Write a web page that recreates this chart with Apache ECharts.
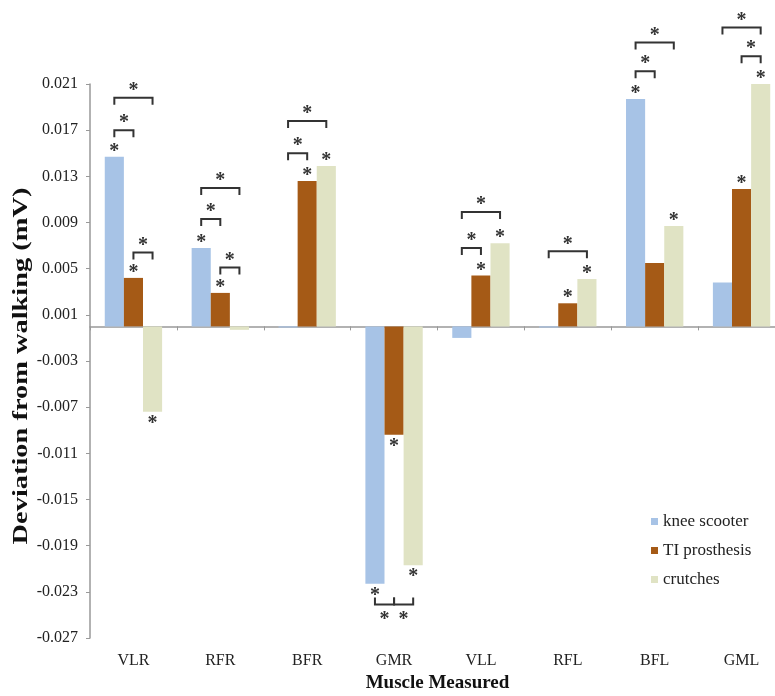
<!DOCTYPE html>
<html>
<head>
<meta charset="utf-8">
<script src="https://cdn.jsdelivr.net/npm/echarts@6/dist/echarts.min.js"></script>
<style>
  html, body { margin: 0; padding: 0; background: #fff; }
  #chart { width: 775px; height: 696px; }
</style>
</head>
<body>
<div id="chart"></div>
<script>
// muscles on the x axis
const muscles = ['VLR', 'RFR', 'BFR', 'GMR', 'VLL', 'RFL', 'BFL', 'GML'];
const seriesNames = ['knee scooter', 'TI prosthesis', 'crutches'];

// deviation from walking (mV)
const kneeScooter = [0.0147, 0.0068, -0.0001, -0.0223, -0.0010, -0.0001, 0.0197, 0.0038];
const tiProsthesis = [0.0042, 0.0029, 0.0126, -0.0094, 0.0044, 0.0020, 0.0055, 0.0119];
const crutches = [-0.0074, -0.0003, 0.0139, -0.0207, 0.0072, 0.0041, 0.0087, 0.0210];

// * over a bar (1 = significant vs walking)
const kneeSig = [1, 1, 0, 1, 0, 0, 1, 0];
const tiSig = [1, 1, 1, 1, 1, 1, 0, 1];
const crutchSig = [1, 0, 1, 1, 1, 1, 1, 1];

// brackets between groups: [muscle index, from series, to series, height]
const brackets = [
  [0, 0, 1, 0.0170], [0, 0, 2, 0.0198], [0, 1, 2, 0.0064],
  [1, 0, 1, 0.0093], [1, 0, 2, 0.0120], [1, 1, 2, 0.0051],
  [2, 0, 1, 0.0150], [2, 0, 2, 0.0178],
  [3, 0, 1, -0.0241], [3, 1, 2, -0.0241],
  [4, 0, 1, 0.0068], [4, 0, 2, 0.0099],
  [5, 0, 2, 0.0065],
  [6, 0, 1, 0.0221], [6, 0, 2, 0.0246],
  [7, 1, 2, 0.0234], [7, 0, 2, 0.0259]
];

const yTicks = [-0.027, -0.023, -0.019, -0.015, -0.011, -0.007, -0.003, 0.001, 0.005, 0.009, 0.013, 0.017, 0.021];

const colors = ['#a7c3e6', '#a55a16', '#e0e3c4'];
const serif = '"Liberation Serif", "Times New Roman", serif';
const BAR_W = 0.22; // fraction of category width
const starFont = { fontFamily: serif, fontSize: 20, fontWeight: 'bold' };

function barData(vals, sig) {
  return vals.map((v, i) => ({
    value: v,
    // the glyph sits high in its box, so push it further out below the bar
    label: { show: !!sig[i], distance: v < 0 ? 4 : -3 }
  }));
}

function barSeries(name, vals, sig, color) {
  return {
    name: name,
    type: 'bar',
    xAxisIndex: 0,
    barWidth: (BAR_W * 100) + '%',
    barGap: '0%',
    itemStyle: { color: color },
    label: Object.assign({
      position: 'outside',
      formatter: '*',
      lineHeight: 16,
      color: '#333'
    }, starFont),
    data: barData(vals, sig)
  };
}

const chart = echarts.init(document.getElementById('chart'));

const option = {
  animation: false,
  backgroundColor: '#fff',
  grid: { left: 90, right: -10, top: 84, bottom: 58, outerBoundsMode: 'none', containLabel: false },
  legend: {
    orient: 'vertical',
    left: 646,
    top: 508,
    icon: 'rect',
    itemWidth: 7,
    itemHeight: 7,
    itemGap: 12,
    textStyle: { fontFamily: serif, fontSize: 17, color: '#222' },
    data: seriesNames
  },
  // y title is stretched along its length in the original
  graphic: [{
    type: 'text',
    x: 22,
    y: 366,
    rotation: Math.PI / 2,
    scaleX: 1.42,
    style: {
      text: 'Deviation from walking (mV)',
      fontFamily: serif,
      fontSize: 20,
      fontWeight: 'bold',
      fill: '#111',
      align: 'center',
      verticalAlign: 'middle'
    }
  }],
  xAxis: [
    {
      type: 'category',
      data: muscles,
      position: 'bottom',
      axisLine: { show: false, onZero: false },
      axisTick: { show: false },
      axisLabel: { fontFamily: serif, fontSize: 16, color: '#222', margin: 15 },
      name: 'Muscle Measured',
      nameLocation: 'middle',
      nameGap: 35,
      nameTextStyle: { fontFamily: serif, fontSize: 19, fontWeight: 'bold', color: '#111' }
    },
    {
      type: 'category',
      data: muscles,
      axisLine: { show: true, onZero: true, lineStyle: { color: '#999', width: 1.5 } },
      axisTick: { show: true, inside: true, length: 4, lineStyle: { color: '#999' } },
      axisLabel: { show: false }
    }
  ],
  yAxis: {
    type: 'value',
    min: -0.027,
    max: 0.021,
    splitLine: { show: false },
    axisLine: { show: true, lineStyle: { color: '#999', width: 1.5 } },
    axisTick: { show: true, length: 4, customValues: yTicks, lineStyle: { color: '#999' } },
    axisLabel: {
      customValues: yTicks,
      formatter: v => v.toFixed(3),
      fontFamily: serif,
      fontSize: 16,
      color: '#222',
      margin: 12
    }
  },
  series: [
    barSeries(seriesNames[0], kneeScooter, kneeSig, colors[0]),
    barSeries(seriesNames[1], tiProsthesis, tiSig, colors[1]),
    barSeries(seriesNames[2], crutches, crutchSig, colors[2]),
    {
      type: 'custom',
      xAxisIndex: 0,
      clip: false,
      silent: true,
      encode: { x: 0, y: 3 },
      data: brackets,
      renderItem: function (params, api) {
        const cat = api.value(0);
        const a = api.value(1);
        const b = api.value(2);
        const yv = api.value(3);
        const p = api.coord([cat, yv]);
        const step = api.size([1, 0])[0] * BAR_W;
        const x1 = p[0] + (a - 1) * step;
        const x2 = p[0] + (b - 1) * step;
        const dir = yv > 0 ? 1 : -1;
        const t = 7 * dir;
        return {
          type: 'group',
          children: [
            {
              type: 'polyline',
              shape: { points: [[x1, p[1] + t], [x1, p[1]], [x2, p[1]], [x2, p[1] + t]] },
              style: { stroke: '#333', lineWidth: 2, fill: null }
            },
            {
              type: 'text',
              style: Object.assign({
                text: '*',
                x: (x1 + x2) / 2,
                y: dir > 0 ? p[1] + 1 : p[1] + 7,
                align: 'center',
                verticalAlign: dir > 0 ? 'bottom' : 'top',
                lineHeight: 16,
                fill: '#333'
              }, starFont)
            }
          ]
        };
      }
    }
  ]
};

chart.setOption(option);
</script>
</body>
</html>
